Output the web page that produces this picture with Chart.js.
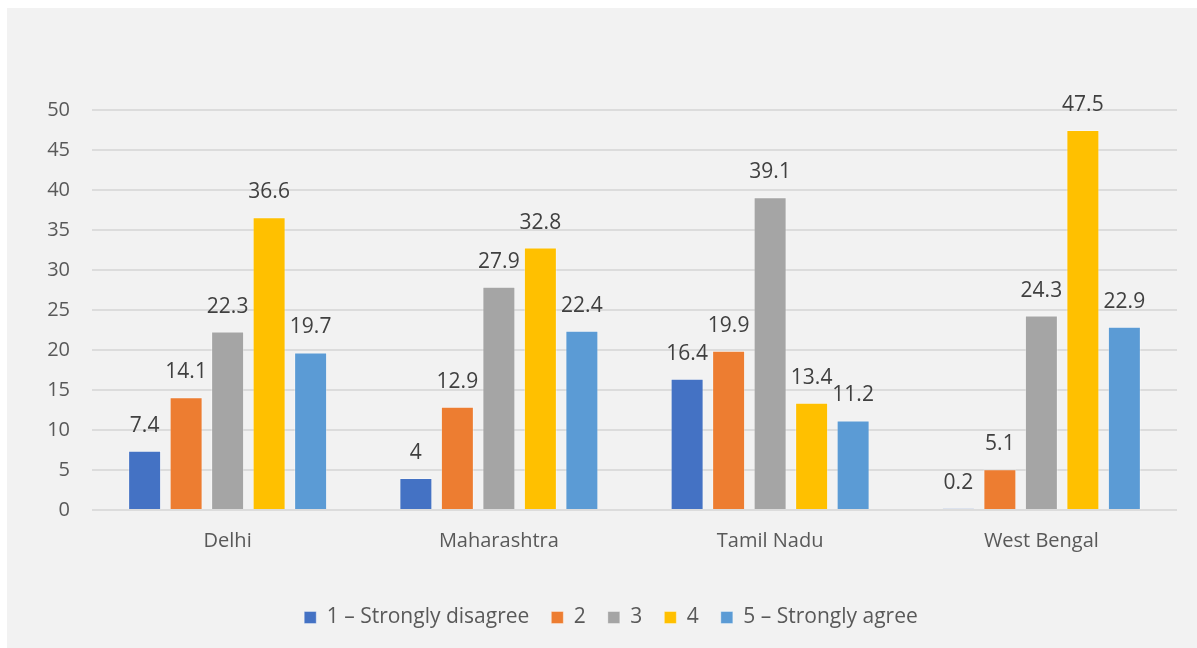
<!DOCTYPE html>
<html>
<head>
<meta charset="utf-8">
<script src="https://cdn.jsdelivr.net/npm/chart.js@4.4.1/dist/chart.umd.min.js"></script>
<style>
  html, body { margin: 0; padding: 0; background: #ffffff; }
  #panel { position: absolute; left: 7px; top: 8px; width: 1190px; height: 640px; background: #f2f2f2; }
  canvas { display: block; }
</style>
</head>
<body>
<div id="panel"><canvas id="chart" width="1190" height="640"></canvas></div>
<script>
// Survey responses by state (%)
const states = ['Delhi', 'Maharashtra', 'Tamil Nadu', 'West Bengal'];
const seriesNames = ['1 – Strongly disagree', '2', '3', '4', '5 – Strongly agree'];
const strongDisagree = [7.4, 4, 16.4, 0.2];
const rating2 = [14.1, 12.9, 19.9, 5.1];
const rating3 = [22.3, 27.9, 39.1, 24.3];
const rating4 = [36.6, 32.8, 13.4, 47.5];
const strongAgree = [19.7, 22.4, 11.2, 22.9];
const yTicks = [0, 5, 10, 15, 20, 25, 30, 35, 40, 45, 50];
const seriesColors = ['#4472C4', '#ED7D31', '#A5A5A5', '#FFC000', '#5B9BD5'];

const seriesValues = [strongDisagree, rating2, rating3, rating4, strongAgree];

const FONT = "'Open Sans', 'DejaVu Sans', sans-serif";

// Writes each bar's value just above its top
const valueLabels = {
  id: 'valueLabels',
  afterDatasetsDraw(chart) {
    const ctx = chart.ctx;
    ctx.save();
    ctx.font = `21px ${FONT}`;
    ctx.fillStyle = '#404040';
    ctx.textAlign = 'center';
    ctx.textBaseline = 'middle';
    chart.data.datasets.forEach((ds, i) => {
      const meta = chart.getDatasetMeta(i);
      meta.data.forEach((bar, j) => {
        ctx.fillText(String(ds.data[j]), bar.x, bar.y - 25);
      });
    });
    ctx.restore();
  }
};

new Chart(document.getElementById('chart'), {
  type: 'bar',
  data: {
    labels: states,
    datasets: seriesNames.map((name, i) => ({
      label: name,
      data: seriesValues[i],
      backgroundColor: seriesColors[i],
      borderColor: 'rgba(255,255,255,0.35)',
      borderWidth: 1,
      categoryPercentage: 0.765,
      barPercentage: 0.795
    }))
  },
  options: {
    responsive: false,
    animation: false,
    layout: { padding: { left: 38, right: 20, top: 102, bottom: 10 } },
    plugins: {
      tooltip: { enabled: false },
      legend: {
        position: 'bottom',
        labels: {
          boxWidth: 12,
          boxHeight: 12,
          padding: 22,
          color: '#595959',
          font: { family: FONT, size: 21 }
        }
      }
    },
    scales: {
      x: {
        grid: { display: false, drawTicks: false },
        border: { display: false },
        ticks: { color: '#595959', padding: 19, font: { family: FONT, size: 20 } },
        afterFit(scale) { scale.height = 75; }
      },
      y: {
        min: 0,
        max: 50,
        afterBuildTicks(scale) { scale.ticks = yTicks.map(v => ({ value: v })); },
        grid: { color: '#dcdcdc', lineWidth: 2, drawTicks: false },
        border: { display: false },
        ticks: { color: '#595959', padding: 22, font: { family: FONT, size: 20 } },
        afterFit(scale) { scale.width = 47; }
      }
    }
  },
  plugins: [valueLabels]
});
</script>
</body>
</html>
